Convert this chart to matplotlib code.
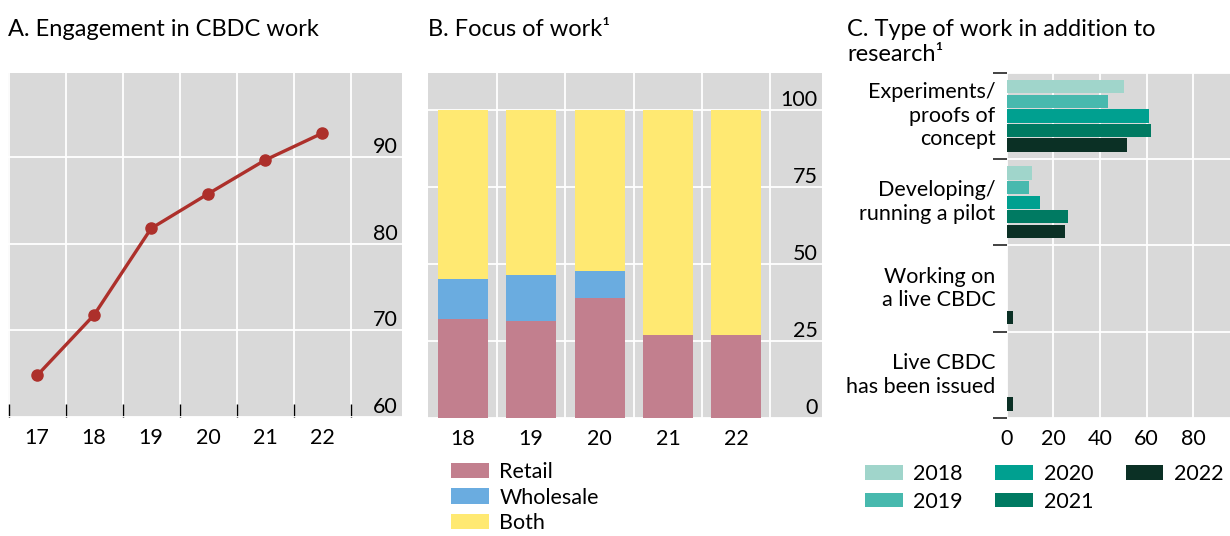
import numpy as np
import matplotlib
matplotlib.use('Agg')
import matplotlib.pyplot as plt

plt.rcParams['font.family'] = ['Lato', 'DejaVu Sans']
plt.rcParams['font.size'] = 15.5

# A. Engagement in CBDC work
years_a = [17, 18, 19, 20, 21, 22]
engagement = [64.8, 71.8, 81.8, 85.8, 89.7, 92.8]

# B. Focus of work
years_b = [18, 19, 20, 21, 22]
retail = [32.0, 31.4, 39.0, 26.8, 26.8]
wholesale = [13.0, 15.2, 8.6, 0.0, 0.0]
both = [55.0, 53.4, 52.4, 73.2, 73.2]

# C. Type of work in addition to research
categories = ['Experiments/\nproofs of\nconcept', 'Developing/\nrunning a pilot',
              'Working on\na live CBDC', 'Live CBDC\nhas been issued']
series_years = ['2018', '2019', '2020', '2021', '2022']
work = {
    '2018': [50.3, 10.9, 0.2, 0.2],
    '2019': [43.4, 9.6, 0.2, 0.2],
    '2020': [61.0, 14.3, 0.2, 0.2],
    '2021': [61.9, 26.3, 0.2, 0.2],
    '2022': [51.6, 25.0, 2.7, 2.7],
}
green = ['#a0d5cb', '#48b9ae', '#00a090', '#007a62', '#0b3025']

W, H = 1230, 536
BG = '#d9d9d9'


def rect(l, t, r, b):
    return [l / W, 1 - b / H, (r - l) / W, (b - t) / H]


fig = plt.figure(figsize=(W / 100, H / 100), dpi=100)


def style(ax):
    ax.set_facecolor(BG)
    for s in ax.spines.values():
        s.set_visible(False)
    ax.set_axisbelow(True)


def right_inside_labels(ax):
    ax.yaxis.set_ticks_position('right')
    ax.tick_params(axis='y', which='major', length=0, pad=-3,
                   labelright=True, labelleft=False)
    for lab in ax.get_yticklabels():
        lab.set_ha('right')
        lab.set_va('bottom')


# ---- panel A
ax1 = fig.add_axes(rect(8, 72.7, 402, 417))
style(ax1)
ax1.plot(years_a, engagement, color='#ad302b', lw=2.4, marker='o', ms=8, zorder=3)
ax1.set_xlim(16.49, 23.4)
ax1.set_ylim(60, 99.8)
ax1.set_xticks(years_a)
ax1.set_xticks(np.arange(16.5, 23, 1), minor=True)
ax1.set_yticks([60, 70, 80, 90])
ax1.tick_params(axis='x', which='major', length=0, pad=8)
ax1.tick_params(axis='x', which='minor', direction='in', length=9.5, width=1, color='black')
ax1.grid(which='minor', axis='x', color='white', lw=1.3)
ax1.grid(which='major', axis='y', color='white', lw=1.3)
right_inside_labels(ax1)

# ---- panel B
ax2 = fig.add_axes(rect(428, 72.7, 821.7, 417.7))
style(ax2)
bw = 0.73
ax2.bar(years_b, retail, bw, color='#c27f8e', label='Retail', zorder=2)
ax2.bar(years_b, wholesale, bw, bottom=retail, color='#6aace0', label='Wholesale', zorder=2)
ax2.bar(years_b, both, bw, bottom=np.add(retail, wholesale), color='#ffe972', label='Both', zorder=2)
ax2.set_xlim(17.49, 23.25)
ax2.set_ylim(0, 112.3)
ax2.set_xticks(years_b)
ax2.set_xticks(np.arange(18.5, 23, 1), minor=True)
ax2.set_yticks([0, 25, 50, 75, 100])
ax2.tick_params(axis='x', which='both', length=0, pad=8)
ax2.grid(which='minor', axis='x', color='white', lw=1.3)
ax2.grid(which='major', axis='y', color='white', lw=1.3)
right_inside_labels(ax2)
ax2.legend(loc='upper left', bbox_to_anchor=(451 / W, 1 - 462 / H),
           bbox_transform=fig.transFigure, frameon=False, fontsize=15.5,
           handlelength=1.75, handleheight=0.72, handletextpad=0.5,
           labelspacing=0.26, borderaxespad=0, borderpad=0)

# ---- panel C
ax3 = fig.add_axes(rect(1006.7, 72.7, 1230, 418))
style(ax3)
y = np.arange(len(categories))
step = 0.169
for i, yr in enumerate(series_years):
    ax3.barh(y + (i - 2) * step, work[yr], height=0.154, color=green[i], label=yr, zorder=2)
ax3.set_xlim(0, 95.7)
ax3.set_ylim(3.5, -0.5)
ax3.set_xticks([0, 20, 40, 60, 80])
ax3.set_yticks(y)
ax3.set_yticklabels(categories, ha='right', va='center', linespacing=1.22)
ax3.set_yticks(np.arange(-0.5, 4, 1), minor=True)
ax3.tick_params(axis='y', which='major', length=0, pad=8)
ax3.tick_params(axis='y', which='minor', direction='out', length=10, width=1.2, color='#222222')
ax3.tick_params(axis='x', length=0, pad=8)
ax3.grid(which='minor', axis='y', color='white', lw=1.3)
ax3.grid(which='major', axis='x', color='white', lw=1.3)
ax3.legend(loc='upper left', bbox_to_anchor=(865 / W, 1 - 464 / H),
           bbox_transform=fig.transFigure, frameon=False, fontsize=15.5, ncol=3,
           handlelength=1.75, handleheight=0.66, handletextpad=0.5,
           labelspacing=0.35, columnspacing=1.5, borderaxespad=0, borderpad=0)

# titles
fig.text(8 / W, 1 - 36 / H, 'A. Engagement in CBDC work', fontsize=17, va='baseline')
fig.text(428 / W, 1 - 36 / H, 'B. Focus of work¹', fontsize=17, va='baseline')
fig.text(847 / W, 1 - 36 / H, 'C. Type of work in addition to', fontsize=17, va='baseline')
fig.text(847 / W, 1 - 61 / H, 'research¹', fontsize=17, va='baseline')

fig.savefig('out.png', dpi=100)
